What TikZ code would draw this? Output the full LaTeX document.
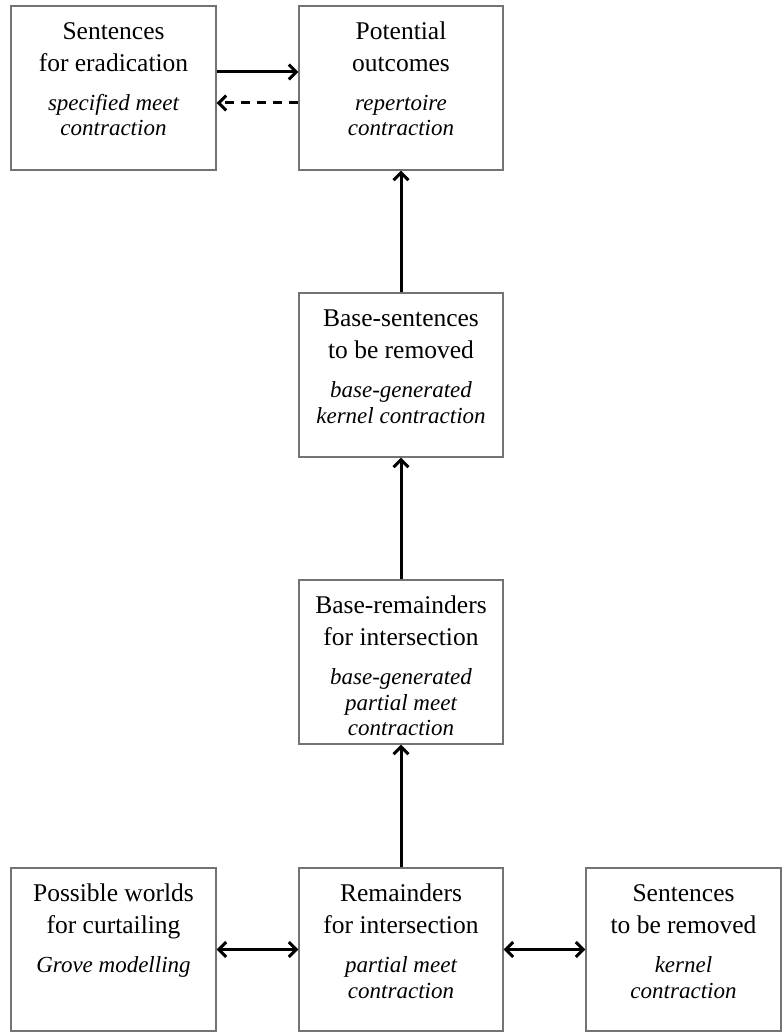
\documentclass[tikz,border=0pt]{standalone}
\usepackage{fontspec}
\setmainfont{Liberation Serif}
\usetikzlibrary{arrows.meta}
\tikzset{
	box/.style={draw=black!55, line width=1.1pt, minimum width=204pt, minimum height=164pt, inner sep=0pt},
	ttl/.style={anchor=north, align=center, inner sep=0pt, font=\fontsize{25.5}{32}\selectfont},
	note/.style={anchor=north, align=center, inner sep=0pt, font=\fontsize{23}{25.5}\selectfont\itshape},
	tip/.tip={Straight Barb[length=7.5pt,width=15pt]},
	arr/.style={line width=3pt, -tip},
	darr/.style={line width=3pt, tip-tip},
}
\begin{document}
\begin{tikzpicture}[x=1pt, y=-1pt]
	\useasboundingbox (0,0) rectangle (782,1032);
	% boxes
	\node[box, minimum width=205pt] (erad) at (113.5,88) {};
	\node[box] (outc) at (401,88) {};
	\node[box] (bsent) at (401,375) {};
	\node[box] (brem) at (401,662) {};
	\node[box, minimum width=205pt, minimum height=163pt] (worlds) at (113.5,949.5) {};
	\node[box, minimum height=163pt] (rem) at (401,949.5) {};
	\node[box, minimum width=195pt, minimum height=163pt] (sent) at (683.5,949.5) {};
	% texts
	\node[ttl] (erad-t) at ([yshift=-11.6pt]erad.north) {\strut Sentences\\\strut for eradication};
	\node[note] (erad-n) at ([yshift=-11pt]erad-t.south) {\strut specified meet\\\strut contraction};
	\node[ttl] (outc-t) at ([yshift=-11.6pt]outc.north) {\strut Potential\\\strut outcomes};
	\node[note] (outc-n) at ([yshift=-11pt]outc-t.south) {\strut repertoire\\\strut contraction};
	\node[ttl] (bsent-t) at ([yshift=-11.6pt]bsent.north) {\strut Base-sentences\\\strut to be removed};
	\node[note] (bsent-n) at ([yshift=-11pt]bsent-t.south) {\strut base-generated\\\strut kernel contraction};
	\node[ttl] (brem-t) at ([yshift=-11.6pt]brem.north) {\strut Base-remainders\\\strut for intersection};
	\node[note] (brem-n) at ([yshift=-11pt]brem-t.south) {\strut base-generated\\\strut partial meet\\\strut contraction};
	\node[ttl] (worlds-t) at ([yshift=-11.6pt]worlds.north) {\strut Possible worlds\\\strut for curtailing};
	\node[note] (worlds-n) at ([yshift=-11pt]worlds-t.south) {\strut Grove modelling};
	\node[ttl] (rem-t) at ([yshift=-11.6pt]rem.north) {\strut Remainders\\\strut for intersection};
	\node[note] (rem-n) at ([yshift=-11pt]rem-t.south) {\strut partial meet\\\strut contraction};
	\node[ttl] (sent-t) at ([yshift=-11.6pt]sent.north) {\strut Sentences\\\strut to be removed};
	\node[note] (sent-n) at ([yshift=-11pt]sent-t.south) {\strut kernel\\\strut contraction};
	% connectors
	\draw[arr] ([yshift=16pt]erad.east) -- ([yshift=16pt]outc.west);
	\draw[arr, dash pattern=on 9pt off 7pt] ([yshift=-15pt]outc.west) -- ([yshift=-15pt]erad.east);
	\draw[arr] (bsent.north) -- (outc.south);
	\draw[arr] (brem.north) -- (bsent.south);
	\draw[arr] (rem.north) -- (brem.south);
	\draw[darr] (worlds.east) -- (rem.west);
	\draw[darr] (rem.east) -- (sent.west);
\end{tikzpicture}
\end{document}
